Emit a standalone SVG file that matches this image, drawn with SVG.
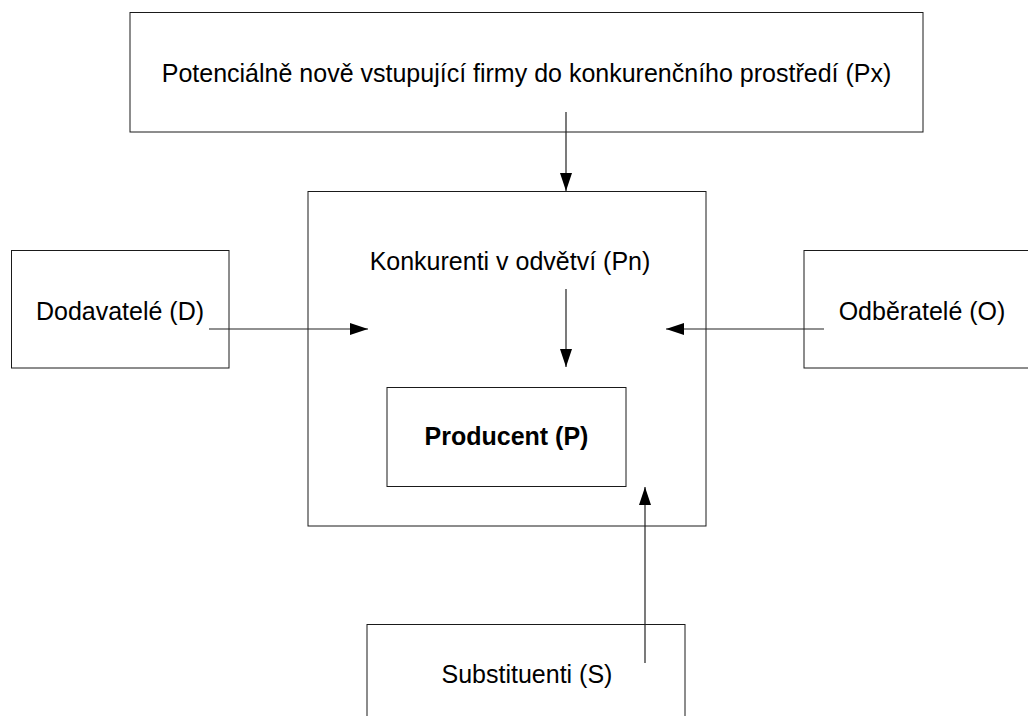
<svg xmlns="http://www.w3.org/2000/svg" width="1028" height="716" viewBox="0 0 1028 716">
  <style>
    .box { fill: #ffffff; stroke: #1a1a1a; stroke-width: 1; }
    .lbl { font-family: "Liberation Sans", Arial, sans-serif; font-size: 25px; fill: #000000; text-anchor: middle; }
    .bold { font-weight: bold; }
    .conn { stroke: #222222; stroke-width: 1.2; fill: none; marker-end: url(#head); }
  </style>
  <defs>
    <marker id="head" viewBox="0 0 18 12" refX="18" refY="6" markerWidth="18" markerHeight="12" markerUnits="userSpaceOnUse" orient="auto">
      <path d="M0,0 L18,6 L0,12 Z" fill="#000000"/>
    </marker>
  </defs>
  <rect width="1028" height="716" fill="#ffffff"/>

  <g id="node-px">
    <rect class="box" x="130" y="12.5" width="793" height="119.5"/>
    <text class="lbl" x="526.5" y="82">Potenciálně nově vstupující firmy do konkurenčního prostředí (Px)</text>
  </g>

  <g id="node-pn">
    <rect class="box" x="308" y="191.5" width="398" height="334.5"/>
    <text class="lbl" x="510" y="270">Konkurenti v odvětví (Pn)</text>
  </g>

  <g id="node-p">
    <rect class="box" x="387" y="387.5" width="239" height="99"/>
    <text class="lbl bold" x="506.5" y="445">Producent (P)</text>
  </g>

  <g id="node-d">
    <rect class="box" x="11.5" y="250.5" width="217.5" height="117.5"/>
    <text class="lbl" x="120" y="320">Dodavatelé (D)</text>
  </g>

  <g id="node-o">
    <rect class="box" x="804" y="250.5" width="240" height="117.5"/>
    <text class="lbl" x="922" y="320">Odběratelé (O)</text>
  </g>

  <g id="node-s">
    <rect class="box" x="367" y="624.5" width="318" height="120"/>
    <text class="lbl" x="527" y="683">Substituenti (S)</text>
  </g>

  <g id="connectors">
    <line class="conn" x1="566" y1="112" x2="566" y2="191"/>
    <line class="conn" x1="566" y1="289" x2="566" y2="367"/>
    <line class="conn" x1="209" y1="329" x2="368" y2="329"/>
    <line class="conn" x1="824" y1="329" x2="666" y2="329"/>
    <line class="conn" x1="645" y1="663" x2="645" y2="487"/>
  </g>
</svg>
